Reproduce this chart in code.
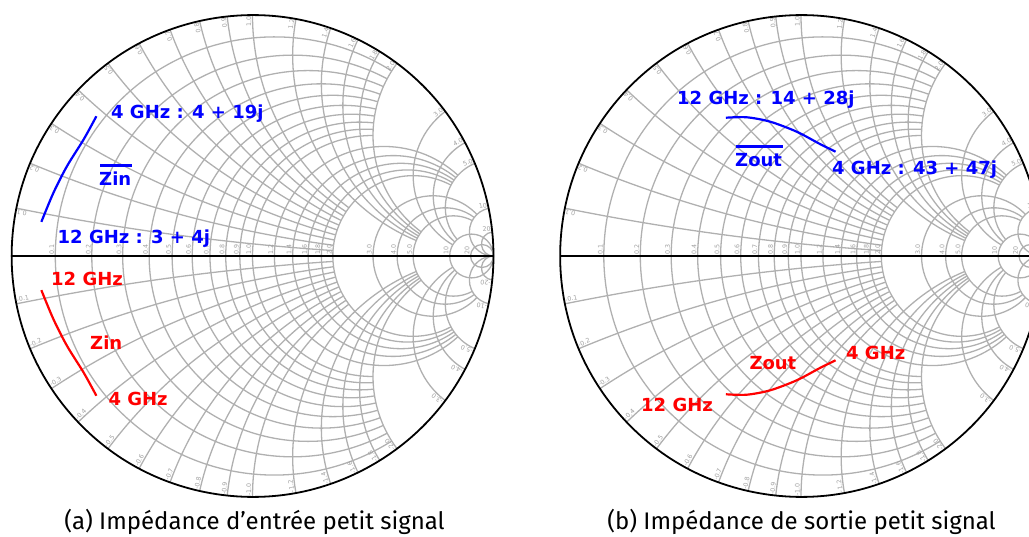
\documentclass[border=0pt]{standalone}
\usepackage{pgfplots}
\pgfplotsset{compat=1.18}
\usepgfplotslibrary{smithchart}
\usepackage{fontspec}
\setmainfont{Fira Sans}
\newfontfamily\lbl{DejaVu Sans}
\definecolor{gridgray}{RGB}{176,176,176}
\definecolor{labgray}{RGB}{160,160,160}
\definecolor{mblue}{RGB}{0,0,255}
\definecolor{mred}{RGB}{255,0,0}

% tick value / where its grid line stops (0 = full) / label
\def\gridlist{0.1/2/0.1, 0.2/2/0.2, 0.3/2/0.3, 0.4/2/0.4, 0.5/2/0.5,
  0.6/2/0.6, 0.7/2/0.7, 0.8/2/0.8, 0.9/2/0.9, 1/2/1.0,
  1.2/5/1.2, 1.4/5/1.4, 1.6/5/1.6, 1.8/5/1.8, 2/5/2.0,
  3/10/3.0, 4/10/4.0, 5/10/5.0, 10/0/10, 20/0/20}

% grid of one chart, centre #1,#2, radius 241pt
\newcommand\smithgrid[2]{%
\begin{scope}[shift={(#1,#2)}, x=241pt, y=241pt]
  \foreach \v/\e/\t in \gridlist {
    % resistance circle
    \pgfmathsetmacro\cc{\v/(1+\v)}
    \pgfmathsetmacro\rr{1/(1+\v)}
    \ifdim\e pt=0pt
      \draw[gridgray, line width=1.3pt] (\cc,0) circle[radius=\rr];
    \else
      \pgfmathsetmacro\dd{(\v+1)*(\v+1)+\e*\e}
      \pgfmathsetmacro\gx{(\v*\v+\e*\e-1)/\dd}
      \pgfmathsetmacro\gy{2*\e/\dd}
      \pgfmathsetmacro\ph{atan2(\gy,\gx-\cc)}
      \pgfmathsetmacro\phe{360-\ph}
      \draw[gridgray, line width=1.3pt] (\cc,0) ++(\ph:\rr) arc[start angle=\ph, end angle=\phe, radius=\rr];
    \fi
    % reactance arcs
    \pgfmathsetmacro\ic{1/\v}
    \pgfmathsetmacro\pz{atan2((\v*\v-1)/\v,-2)}
    \ifdim\e pt=0pt
      \pgfmathsetmacro\pe{\pz<0 ? -90 : 270}
    \else
      \pgfmathsetmacro\dd{(\e+1)*(\e+1)+\v*\v}
      \pgfmathsetmacro\gx{(\e*\e+\v*\v-1)/\dd}
      \pgfmathsetmacro\gy{2*\v/\dd}
      \pgfmathsetmacro\pe{atan2(\gy-\ic,\gx-1)}
      \pgfmathsetmacro\pe{\pe<\pz ? \pe+360 : \pe}
    \fi
    \pgfmathsetmacro\mz{-\pz}
    \pgfmathsetmacro\me{-\pe}
    \pgfmathsetmacro\mic{-\ic}
    \draw[gridgray, line width=1.3pt] (1,\ic) ++(\pz:\ic) arc[start angle=\pz, end angle=\pe, radius=\ic];
    \draw[gridgray, line width=1.3pt] (1,\mic) ++(\mz:\ic) arc[start angle=\mz, end angle=\me, radius=\ic];
  }
  \draw[black, line width=1.8pt] (-1,0) -- (1,0);
  \foreach \v/\e/\t in \gridlist {
    \pgfmathsetmacro\gx{(\v-1)/(\v+1)}
    \pgfmathsetmacro\th{atan2(2*\v,\v*\v-1)}
    \pgfmathsetmacro\mth{-\th}
    \pgfmathsetmacro\rth{180-\th}
    \begin{scope}[every node/.style={font=\lbl\fontsize{6.3}{7}\selectfont, text=labgray, inner sep=1pt}]
      \node[rotate=90, anchor=south west] at (\gx,0) {\t};
      \node[rotate=\th, anchor=south east] at (\th:1) {\t};
      \node[rotate=\rth, anchor=south west] at (\mth:1) {-\t};
    \end{scope}
  }
\end{scope}}

\pgfplotsset{
  refsmith/.style={
    scale only axis,
    width=482pt,
    anchor=center,
    xtick=\empty,
    ytick=\empty,
    show origin=false,
    show origin code/.code={},
    axis line style={black, line width=1.8pt},
  },
}
\begin{document}
\begin{tikzpicture}
\useasboundingbox (0,0) rectangle (1029pt,536pt);
\clip (0,0) rectangle (1029pt,536pt);
\smithgrid{252.5pt}{280pt}
\smithgrid{801pt}{280pt}
% (a) input impedance
\begin{smithchart}[refsmith, at={(252.5pt,280pt)}]
\addplot[mblue, line width=2.2pt, smooth] coordinates {
(0.08,0.38) (0.088,0.31) (0.082,0.227) (0.073,0.153) (0.06,0.08)};
\addplot[mred, line width=2.2pt, smooth] coordinates {
(0.08,-0.38) (0.088,-0.31) (0.082,-0.227) (0.073,-0.153) (0.06,-0.08)};
\end{smithchart}
% (b) output impedance
\begin{smithchart}[refsmith, at={(801pt,280pt)}]
\addplot[mblue, line width=2.2pt, smooth] coordinates {
(0.28,0.56) (0.337,0.628) (0.425,0.704) (0.563,0.792) (0.731,0.873) (0.86,0.94)};
\addplot[mred, line width=2.2pt, smooth] coordinates {
(0.28,-0.56) (0.337,-0.628) (0.425,-0.704) (0.563,-0.792) (0.731,-0.873) (0.86,-0.94)};
\end{smithchart}
\begin{scope}[every node/.style={font=\lbl\bfseries\fontsize{18}{20}\selectfont, inner sep=0pt, anchor=base west}]
\node[mblue] at (111pt,417pt) {4 GHz : 4 + 19j};
\node[mblue] at (99pt,350.3pt) {Zin};
\node[mblue] at (57.5pt,292.7pt) {12 GHz : 3 + 4j};
\node[mred] at (51pt,250pt) {12 GHz};
\node[mred] at (90pt,186.7pt) {Zin};
\node[mred] at (108.3pt,130pt) {4 GHz};
\node[mblue] at (677pt,431pt) {12 GHz : 14 + 28j};
\node[mblue] at (735pt,369.3pt) {Zout};
\node[mblue] at (832pt,361pt) {4 GHz : 43 + 47j};
\node[mred] at (846pt,176.7pt) {4 GHz};
\node[mred] at (749.3pt,166.7pt) {Zout};
\node[mred] at (641pt,124.3pt) {12 GHz};
\end{scope}
\draw[mblue, line width=2.6pt] (100pt,370.3pt) -- (131.7pt,370.3pt);
\draw[mblue, line width=2.6pt] (735.7pt,389.3pt) -- (782.7pt,389.3pt);
\node[font=\fontsize{24}{28}\selectfont, anchor=base, inner sep=0pt] at (254.5pt,6.5pt) {(a) Impédance d’entrée petit signal};
\node[font=\fontsize{24}{28}\selectfont, anchor=base, inner sep=0pt] at (801.5pt,6.5pt) {(b) Impédance de sortie petit signal};
\end{tikzpicture}
\end{document}
